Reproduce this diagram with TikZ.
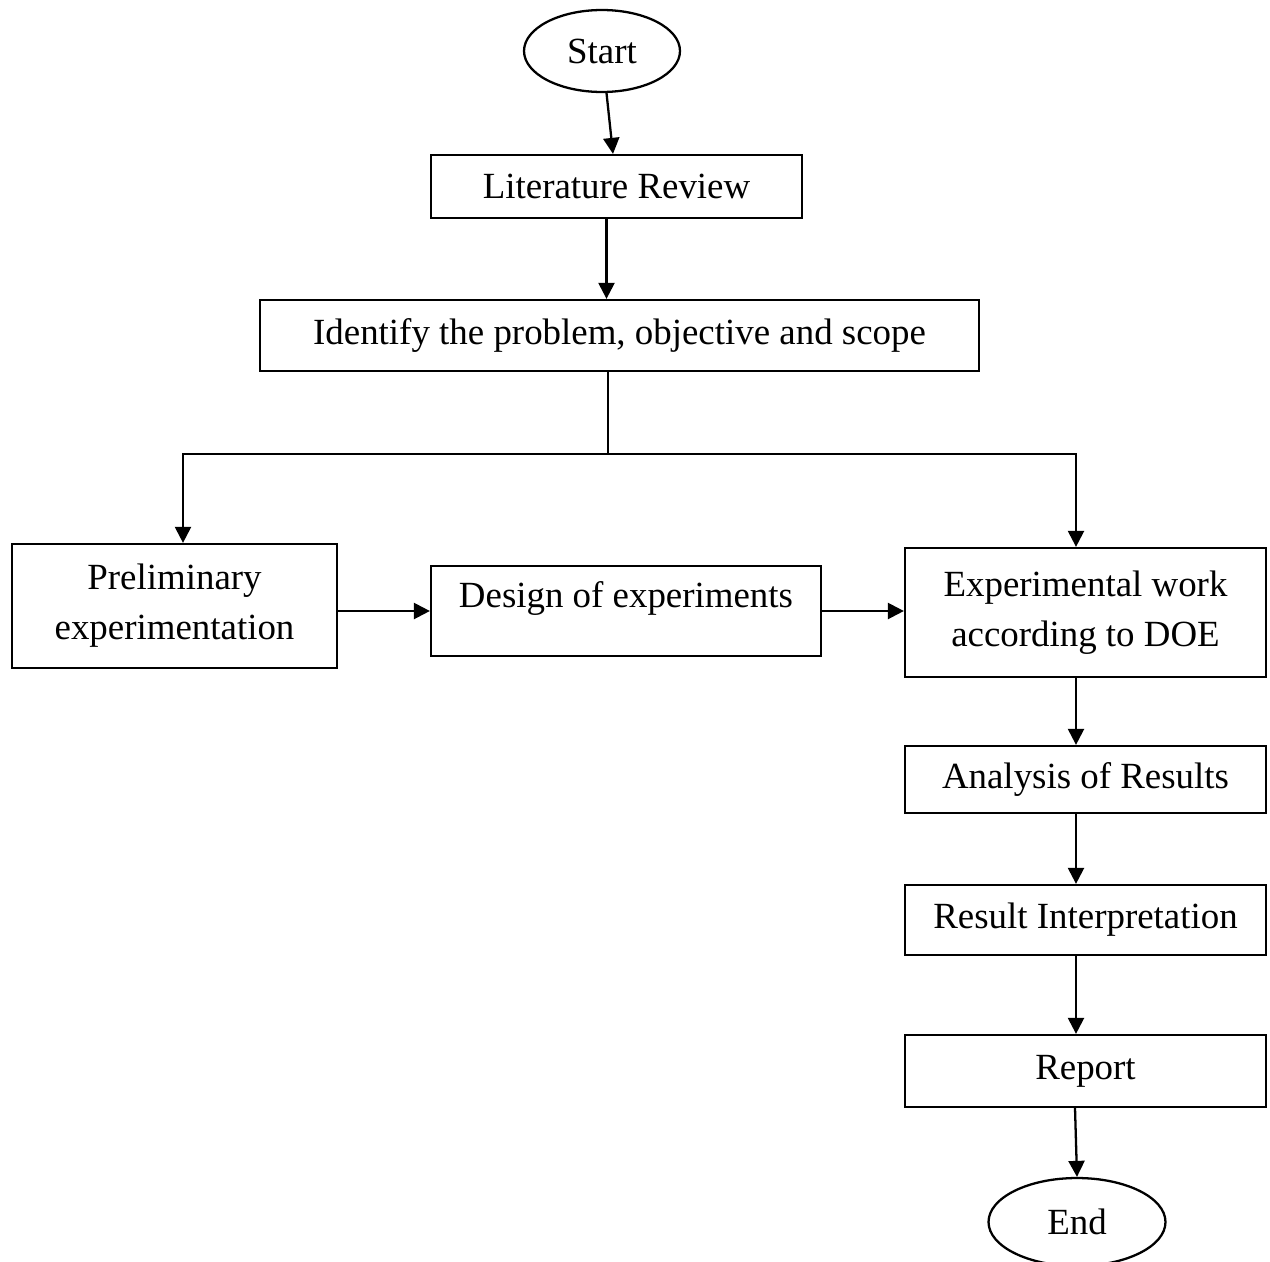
\documentclass[tikz,border=0pt]{standalone}
\usepackage{fontspec}
\setmainfont{Liberation Serif}
\usetikzlibrary{shapes.geometric,arrows.meta}

\begin{document}
\begin{tikzpicture}[x=0.02cm,y=0.02cm,
  box/.style={draw=black,line width=1.3pt,rectangle,align=center,inner sep=0pt,font=\fontsize{21}{28.5}\selectfont},
  oval/.style={draw=black,line width=1.3pt,ellipse,inner sep=0pt,font=\fontsize{21}{28.5}\selectfont},
  arr/.style={line width=1.3pt,-{Triangle[width=0.32cm,length=0.32cm]}},
  ln/.style={line width=1.3pt}]
\useasboundingbox (0,0) rectangle (1270,-1261);
\node [oval,minimum width=3.12cm,minimum height=1.64cm] (start) at (602,-51) {Start};
\node [box,minimum width=7.42cm,minimum height=1.26cm] (lit) at (616.5,-186.5) {Literature Review};
\node [box,minimum width=14.38cm,minimum height=1.42cm] (ident) at (619.5,-335.5) {Identify the problem, objective and scope};
\node [box,minimum width=6.5cm,minimum height=2.48cm] (prelim) at (174.5,-606) {Preliminary\\experimentation};
\node [box,minimum width=7.8cm,minimum height=1.8cm,text height=0.6cm,text depth=0.76cm] (doe) at (626,-611) {Design of experiments};
\node [box,minimum width=7.22cm,minimum height=2.58cm] (expw) at (1085.5,-612.5) {Experimental work\\according to DOE};
\node [box,minimum width=7.22cm,minimum height=1.34cm] (ana) at (1085.5,-779.5) {Analysis of Results};
\node [box,minimum width=7.22cm,minimum height=1.4cm] (interp) at (1085.5,-920) {Result Interpretation};
\node [box,minimum width=7.22cm,minimum height=1.44cm] (report) at (1085.5,-1071) {Report};
\node [oval,minimum width=3.54cm,minimum height=1.76cm] (end) at (1077,-1222) {End};
\coordinate (split) at (608,-454);
\coordinate (spine) at (1076,-454);
\draw [arr] (start) -- (lit);
\draw [arr] ([xshift=-0.2cm]lit.south) -- ([xshift=-0.2cm]lit.south |- ident.north);
\draw [ln] (ident.south -| split) -- (split);
\draw [arr] (split) -| ([xshift=0.17cm]prelim.north);
\draw [arr] (split) -- (spine) -- (spine |- expw.north);
\draw [arr] (prelim.east |- doe) -- (doe.west);
\draw [arr] (doe.east) -- (doe.east -| expw.west);
\draw [arr] (spine |- expw.south) -- (spine |- ana.north);
\draw [arr] (spine |- ana.south) -- (spine |- interp.north);
\draw [arr] (spine |- interp.south) -- (spine |- report.north);
\draw [arr] ([xshift=-0.21cm]report.south) -- (end.north);
\end{tikzpicture}
\end{document}
